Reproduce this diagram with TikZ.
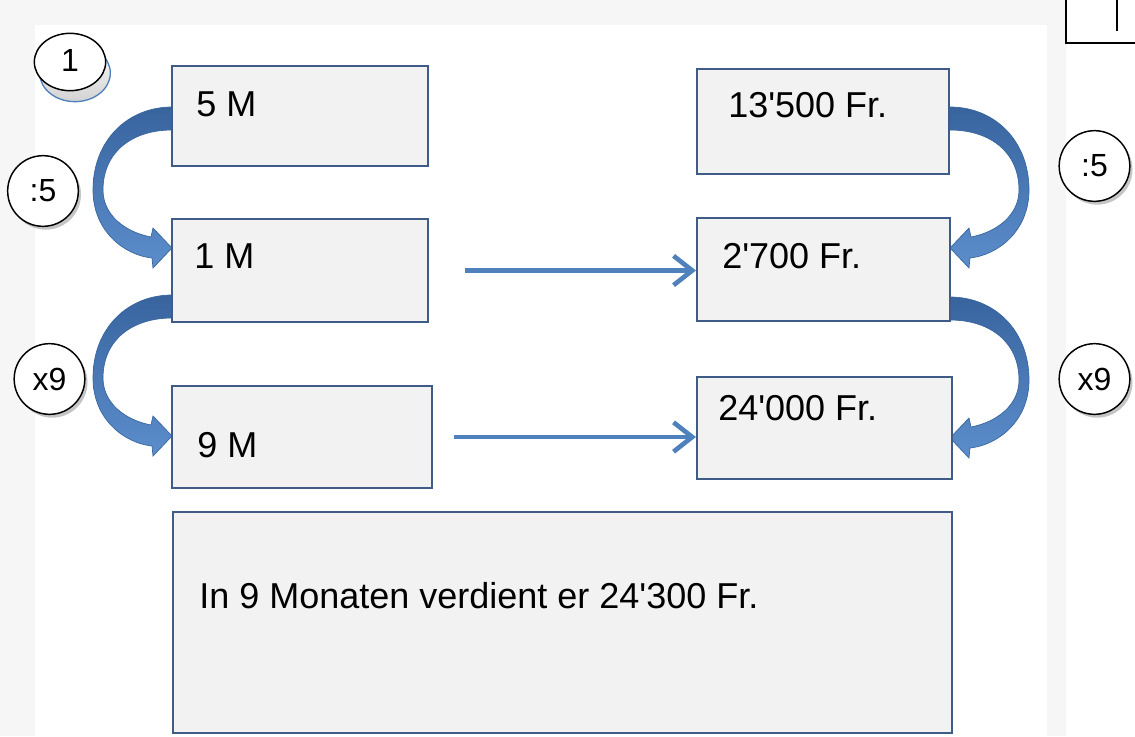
\documentclass[tikz,border=0pt]{standalone}
\usepackage{fontspec}
\setmainfont{Liberation Sans}
\usetikzlibrary{arrows.meta,shapes.geometric,shadows}
\definecolor{boxfill}{RGB}{242,242,242}
\definecolor{boxline}{RGB}{62,92,135}
\definecolor{arrblue}{RGB}{79,129,189}
\definecolor{arrdark}{RGB}{56,100,158}
\definecolor{arrlight}{RGB}{92,142,204}
\definecolor{edgegray}{RGB}{246,246,246}
\newcommand\bendpath{(172,107) .. controls (128,107) and (93,140) .. (93,190) .. controls (93,231) and (124,255) .. (152,258) -- (153,268) -- (172,248) -- (153,228) -- (151,237) .. controls (125,232) and (103,215) .. (103,190) .. controls (103,152) and (132,130) .. (172,130) -- cycle}
\begin{document}
\begin{tikzpicture}[x=0.75pt,y=-0.75pt,
  valbox/.style={rectangle,draw=boxline,fill=boxfill,line width=1.5pt,inner sep=0pt},
  valtext/.style={anchor=base west,inner sep=0pt,font=\fontsize{27}{32}\selectfont},
  opcirc/.style={circle,draw=black,fill=white,line width=1.1pt,minimum size=53pt,inner sep=0pt,
    font=\fontsize{24}{28}\selectfont,
    drop shadow={shadow xshift=2pt,shadow yshift=-2.5pt,fill=black!50,opacity=0.45}},
  flowarrow/.style={draw=arrblue,line width=3.5pt,-{Straight Barb[length=14pt,width=22pt]}},
  bendarrow/.style={top color=arrdark,bottom color=arrlight,draw=arrdark,line width=0.5pt}
]
\useasboundingbox (0,0) rectangle (1135,736);
% background
\fill[white] (0,0) rectangle (1135,736);
\fill[edgegray] (0,0) rectangle (1066,736);
\fill[white] (35,25) rectangle (1047,736);
% partial box at top right
\draw[black,line width=1.5pt] (1066,-2) -- (1066,43) -- (1137,43);
\draw[black,line width=1.5pt] (1117,-2) -- (1117,31);

% curved block arrows
\path[bendarrow] \bendpath;
\begin{scope}[shift={(0,188)}]
  \path[bendarrow] \bendpath;
\end{scope}
\begin{scope}[shift={(1122,0)},xscale=-1]
  \path[bendarrow] \bendpath;
\end{scope}
\begin{scope}[shift={(1122,190)},xscale=-1]
  \path[bendarrow] \bendpath;
\end{scope}

% boxes
\node[valbox,minimum width=192pt,minimum height=75pt] (m5) at (300,116) {};
\node[valbox,minimum width=192pt,minimum height=77.25pt] (m1) at (300,270.5) {};
\node[valbox,minimum width=195pt,minimum height=76.5pt] (m9) at (302,437) {};
\node[valbox,minimum width=189pt,minimum height=78.75pt] (f13) at (823,121.5) {};
\node[valbox,minimum width=189.75pt,minimum height=77.25pt] (f27) at (823.5,269.5) {};
\node[valbox,minimum width=191.25pt,minimum height=76.5pt] (f24) at (824.5,428) {};
\node[valbox,minimum width=584.25pt,minimum height=165.75pt] (res) at (562.5,622.5) {};

% texts
\node[valtext] (t5) at (196,116) {5 M};
\node[valtext] (t1) at (194,268) {1 M};
\node[valtext] (t9) at (197,457) {9 M};
\node[valtext] (tf13) at (728,117) {13\textquotesingle 500 Fr.};
\node[valtext] (tf27) at (722,268) {2\textquotesingle 700 Fr.};
\node[valtext] (tf24) at (718,420) {24\textquotesingle 000 Fr.};
\node[valtext] (tres) at (199,608) {In 9 Monaten verdient er 24\textquotesingle 300 Fr.};

% straight arrows
\draw[flowarrow,shorten <=27pt] (m1.east) -- (m1.east -| f27.west);
\draw[flowarrow,shorten <=15.75pt] (m9.east) -- (m9.east -| f24.west);

% circles
\node[ellipse,draw=arrblue,top color=white,bottom color=gray!35,line width=1pt,minimum width=53pt,minimum height=43pt] (c1b) at (75,73) {};
\node[ellipse,draw=black,fill=white,line width=1.1pt,minimum width=53.5pt,minimum height=43pt,inner sep=0pt,font=\fontsize{24}{28}\selectfont] (c1) at (70,62) {\raisebox{3pt}{1}};
\node[opcirc] (c5l) at (43,191) {:5};
\node[opcirc] (c9l) at (49.5,379) {x9};
\node[opcirc] (c5r) at (1094.5,166) {:5};
\node[opcirc] (c9r) at (1094.5,379) {x9};
\end{tikzpicture}
\end{document}
